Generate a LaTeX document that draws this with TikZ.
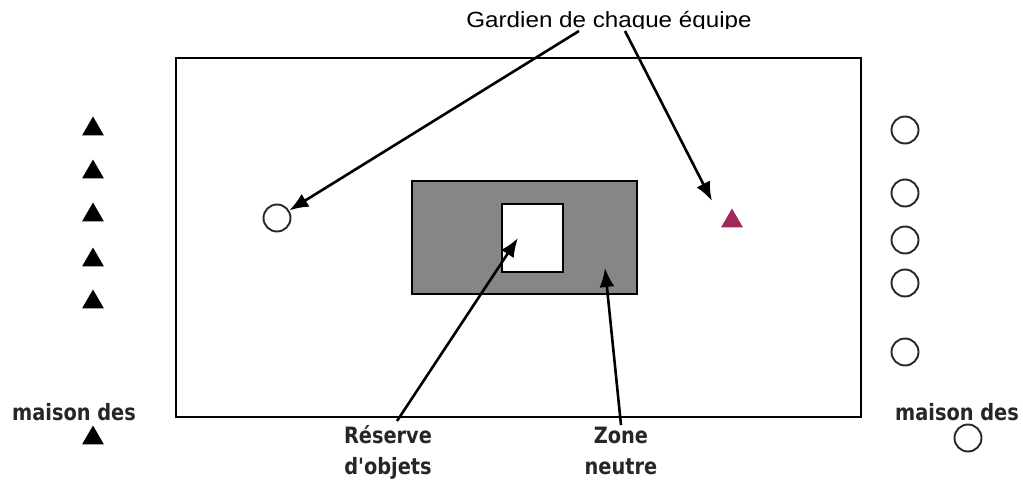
\documentclass[tikz,border=0pt]{standalone}
\usepackage{fontspec}
\setmainfont{DejaVu Sans}
\newfontfamily\titlefont[FakeStretch=1.1]{Liberation Sans}
\newfontfamily\handfont[FakeStretch=0.86]{DejaVu Sans}
\usetikzlibrary{shapes.geometric,arrows.meta}
\definecolor{zonegray}{RGB}{134,134,134}
\definecolor{keeperred}{RGB}{160,40,90}

\begin{document}
\begin{tikzpicture}[x=1pt,y=-1pt,
            tri/.style={regular polygon,regular polygon sides=3,fill=black,inner sep=0pt,minimum size=25pt},
            ring/.style={circle,draw=black!85,line width=1.9pt,inner sep=0pt,minimum size=27pt},
            lbl/.style={font=\handfont\bfseries\fontsize{22.5}{31}\selectfont,text=black!85,inner sep=0pt},
            arr/.style={line width=2.6pt,-{Latex[length=19pt,width=15pt]}}]

            \useasboundingbox[fill=white] (0,0) rectangle (1023,487);

            % title, cut off at the bottom
            \begin{scope}
               \clip (0,0) rectangle (1023,28.5);
               \node[font=\titlefont\fontsize{22}{24}\selectfont,inner sep=0pt,anchor=base] (title) at (609,27.5) {Gardien de chaque équipe};
            \end{scope}

            % playing field and neutral zone
            \draw[line width=2.2pt] (176,58) rectangle (861,417);
            \draw[line width=1.8pt,fill=zonegray] (412,181) rectangle (637,294);
            \node[draw=black,line width=1.8pt,fill=white,minimum width=61pt,minimum height=68pt,inner sep=0pt] (stock) at (532.5,238) {};

            % keepers
            \node[ring] (keeperA) at (277,218) {};
            \node[tri,fill=keeperred] (keeperB) at (732,221) {};

            % triangle team
            \node[tri] (triA) at (93,129) {};
            \node[tri] (triB) at (93,172) {};
            \node[tri] (triC) at (93,215) {};
            \node[tri] (triD) at (93,260) {};
            \node[tri] (triE) at (93,302) {};
            \node[tri] (triHome) at (93,438) {};

            % circle team
            \node[ring] (ringA) at (905,130) {};
            \node[ring] (ringB) at (905,193) {};
            \node[ring] (ringC) at (905,240) {};
            \node[ring] (ringD) at (905,283) {};
            \node[ring] (ringE) at (905,352) {};
            \node[ring] (ringHome) at (968,438) {};

            % labels
            \node[lbl,anchor=base] (homeLeft) at (74,420) {maison des};
            \node[lbl,anchor=base] (homeRight) at (957,420) {maison des};
            \node[lbl,anchor=base] (reserve) at (388,443) {Réserve};
            \node[lbl,anchor=base] (reserveB) at (388,474) {d'objets};
            \node[lbl,anchor=base] (zone) at (621,443) {Zone};
            \node[lbl,anchor=base] (zoneB) at (621,474) {neutre};

            % arrows
            \coordinate (fromTitleA) at (579,31);
            \coordinate (fromTitleB) at (625,31);
            \coordinate (toKeeperB) at (712,201);
            \coordinate (fromReserve) at (397,421);
            \coordinate (toStock) at (518,238);
            \coordinate (fromZone) at (621,425);
            \coordinate (toZone) at (605,268);

            \draw[arr] (fromTitleA) -- (keeperA);
            \draw[arr] (fromTitleB) -- (toKeeperB);
            \draw[arr] (fromReserve) -- (toStock);
            \draw[arr] (fromZone) -- (toZone);
         \end{tikzpicture}
\end{document}
